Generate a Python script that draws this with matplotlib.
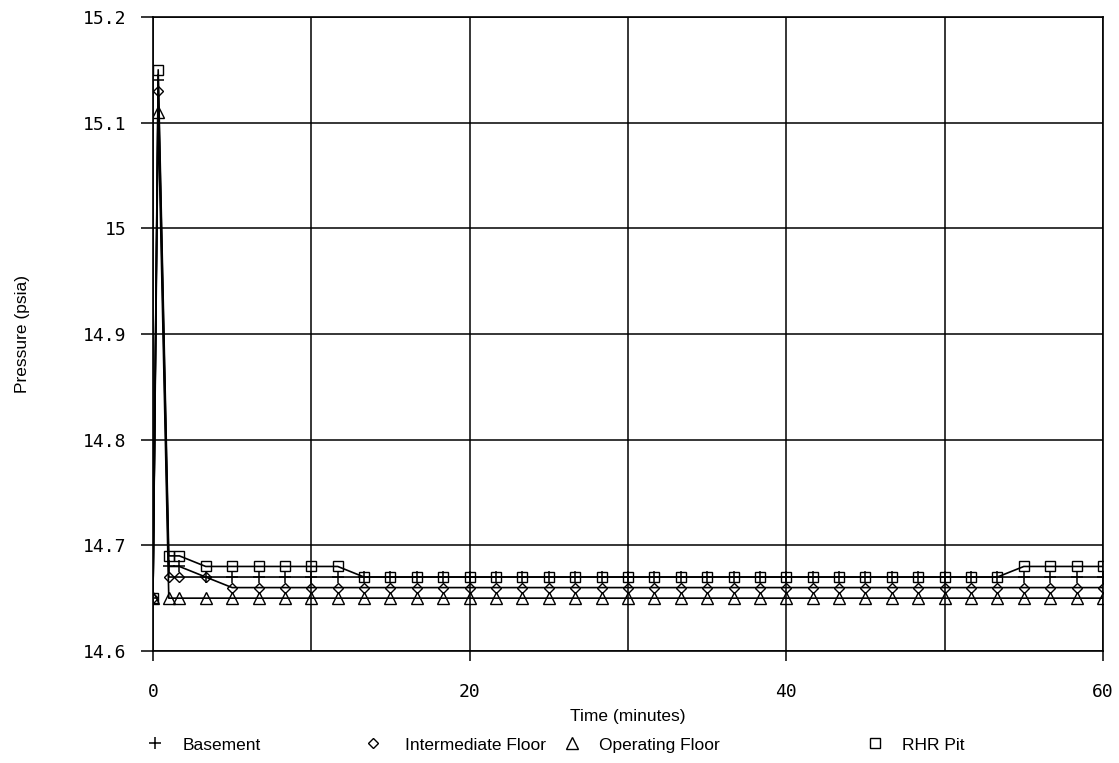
import numpy as np
import matplotlib
matplotlib.use('Agg')
import matplotlib.pyplot as plt
from matplotlib.lines import Line2D

# tempo (min) - 0, 20 s, 60 s, depois a cada 100 s
time_min = [0.0, 0.33, 1.0, 1.67, 3.33, 5.0, 6.67, 8.33, 10.0, 11.67, 13.33,
            15.0, 16.67, 18.33, 20.0, 21.67, 23.33, 25.0, 26.67, 28.33, 30.0,
            31.67, 33.33, 35.0, 36.67, 38.33, 40.0, 41.67, 43.33, 45.0, 46.67,
            48.33, 50.0, 51.67, 53.33, 55.0, 56.67, 58.33, 60.0]

basement = [14.65, 15.14, 14.68, 14.68] + [14.67] * 35
intermediate = [14.65, 15.13, 14.67, 14.67, 14.67] + [14.66] * 34
operating = [14.65, 15.11] + [14.65] * 37
rhr_pit = [14.65, 15.15, 14.69, 14.69] + [14.68] * 6 + [14.67] * 25 + [14.68] * 4

series_names = ['Basement', 'Intermediate Floor', 'Operating Floor', 'RHR Pit']

y_ticks = [14.6, 14.7, 14.8, 14.9, 15.0, 15.1, 15.2]
y_tick_labels = ['14.6', '14.7', '14.8', '14.9', '15', '15.1', '15.2']
x_ticks = [0, 20, 40, 60]
x_minor = [10, 30, 50]

label_font = 'Liberation Sans'
tick_font = 'DejaVu Sans Mono'

def main():
    fig = plt.figure(figsize=(11.19, 7.63), dpi=100)
    ax = fig.add_axes([0.1367, 0.1468, 0.8490, 0.8309])

    styles = [('+', 9, 1.1), ('D', 5, 1.0), ('^', 8, 1.0), ('s', 7.5, 1.0)]
    all_series = [basement, intermediate, operating, rhr_pit]
    for values, (mk, ms, mew) in zip(all_series, styles):
        ax.plot(time_min, values, color='black', lw=1.2, marker=mk,
                markersize=ms, markerfacecolor='none', markeredgecolor='black',
                markeredgewidth=mew)

    ax.set_xlim(0, 60)
    ax.set_ylim(14.6, 15.2)
    ax.set_xticks(x_ticks)
    ax.set_xticks(x_minor, minor=True)
    ax.set_yticks(y_ticks)
    ax.set_yticklabels(y_tick_labels)
    ax.grid(True, which='both', color='black', lw=1.1)
    ax.tick_params(which='major', direction='out', length=9, width=1.1,
                   labelsize=13, pad=10)
    ax.tick_params(axis='x', which='major', length=7, pad=16)
    ax.tick_params(which='minor', length=0)
    for lab in ax.get_xticklabels() + ax.get_yticklabels():
        lab.set_family(tick_font)
    for s in ax.spines.values():
        s.set_linewidth(1.2)
        s.set_color('black')

    ax.set_xlabel('Time (minutes)', fontsize=12.5, family=label_font, labelpad=6)
    ax.set_ylabel('Pressure (psia)', fontsize=12.5, family=label_font, labelpad=38)

    # legenda - uma entrada por vez, posições como no original
    leg_x = [0.1385, 0.3333, 0.5112, 0.7820]
    pads = [1.05, 1.35, 1.05, 1.05]
    for (mk, ms, mew), name, lx, pad in zip(styles, series_names, leg_x, pads):
        h = Line2D([], [], linestyle='none', marker=mk, markersize=ms,
                   markerfacecolor='none', markeredgecolor='black',
                   markeredgewidth=mew)
        fig.legend(handles=[h], labels=[name], loc='center left',
                   bbox_to_anchor=(lx - 0.0075, 0.0236), frameon=False,
                   handlelength=1.0, handletextpad=pad, borderpad=0,
                   borderaxespad=0, prop={'family': label_font, 'size': 12.5})

    fig.savefig('out.png', dpi=100)

if __name__ == '__main__':
    main()
